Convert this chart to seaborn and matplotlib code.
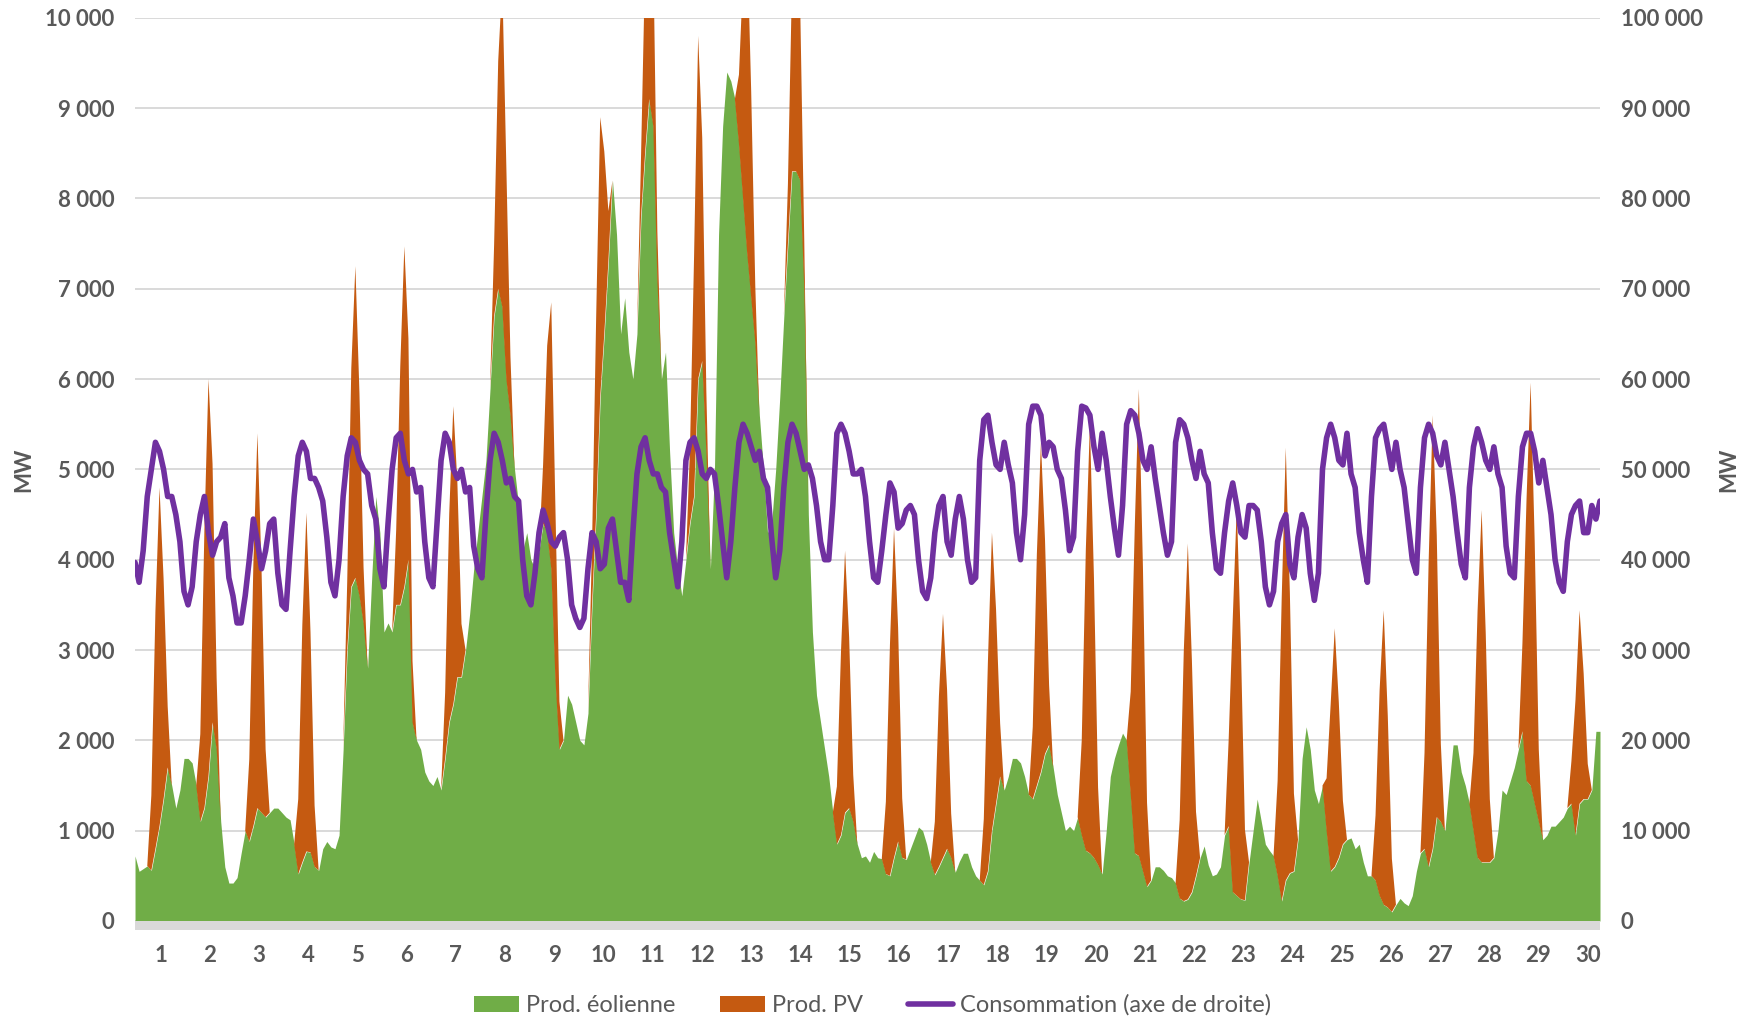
import matplotlib
matplotlib.use("Agg")
import matplotlib.pyplot as plt
import seaborn as sns
import pandas as pd
from matplotlib.patches import Patch, Rectangle
from matplotlib.lines import Line2D

GREEN = "#70AD47"
ORANGE = "#C55A11"
PURPLE = "#7030A0"
GREY_TXT = "#595959"
GRID = "#D9D9D9"

days = list(range(1, 31))
hours = [0, 2, 4, 6, 8, 10, 12, 14, 16, 18, 20, 22]

# Prod. éolienne (MW), one row of 2-hour values per day
wind_mw = [
    720, 550, 580, 610, 560, 800, 1050, 1350, 1700, 1500, 1250, 1450,
    1800, 1800, 1750, 1500, 1100, 1250, 1600, 2200, 1900, 1100, 600, 420,
    420, 480, 750, 1000, 880, 1050, 1250, 1200, 1150, 1200, 1250, 1250,
    1200, 1150, 1120, 850, 520, 650, 770, 760, 600, 560, 800, 880,
    820, 800, 950, 1900, 3000, 3700, 3800, 3600, 3300, 2800, 3800, 4700,
    4300, 3200, 3300, 3200, 3500, 3500, 3700, 4000, 2200, 2000, 1900, 1650,
    1550, 1500, 1600, 1450, 1800, 2200, 2400, 2700, 2700, 3000, 3400, 3900,
    4300, 4700, 5100, 5900, 6700, 7000, 6800, 6000, 5600, 5000, 4600, 4100,
    4300, 4000, 3900, 4100, 4400, 4300, 3900, 2700, 1900, 2000, 2500, 2400,
    2200, 2000, 1950, 2300, 3500, 4500, 5800, 6500, 7300, 8200, 7600, 6500,
    6900, 6300, 6000, 6500, 7800, 8500, 9100, 8800, 7100, 6000, 6300, 5200,
    4300, 3900, 3600, 4000, 4400, 4700, 6000, 6200, 5200, 3900, 5000, 7600,
    8800, 9400, 9300, 9100, 8600, 8000, 7400, 6900, 6400, 5600, 5000, 4300,
    4400, 5000, 5800, 6700, 7500, 8300, 8300, 8200, 7000, 4500, 3200, 2500,
    2200, 1900, 1600, 1200, 850, 950, 1200, 1250, 1100, 850, 700, 720,
    650, 770, 700, 690, 520, 500, 700, 880, 700, 680, 800, 920,
    1040, 1000, 850, 650, 510, 600, 700, 800, 700, 540, 660, 750,
    750, 600, 500, 450, 400, 550, 1000, 1300, 1600, 1450, 1600, 1800,
    1800, 1750, 1600, 1400, 1350, 1500, 1650, 1850, 1950, 1700, 1400, 1200,
    1000, 1050, 1000, 1150, 950, 780, 750, 700, 620, 520, 1000, 1600,
    1800, 1950, 2080, 2000, 1400, 750, 720, 550, 380, 450, 600, 600,
    560, 500, 480, 420, 250, 220, 240, 320, 500, 700, 830, 620,
    500, 520, 600, 950, 1050, 320, 280, 240, 230, 650, 1000, 1350,
    1100, 850, 780, 720, 500, 220, 450, 530, 550, 900, 1800, 2150,
    1900, 1450, 1300, 1500, 1000, 550, 600, 700, 850, 900, 920, 800,
    850, 650, 500, 500, 450, 280, 180, 150, 100, 180, 250, 200,
    170, 280, 550, 750, 800, 600, 800, 1150, 1100, 1000, 1500, 1950,
    1950, 1650, 1500, 1300, 1000, 700, 650, 650, 650, 700, 1000, 1450,
    1400, 1550, 1700, 1900, 2100, 1550, 1500, 1300, 1100, 900, 950, 1050,
    1050, 1100, 1150, 1250, 1300, 950, 1300, 1350, 1350, 1450, 2100, 2100,
]

# Prod. PV (MW), one row of 2-hour values per day
pv_mw = [
    0, 0, 0, 0, 830, 2630, 3750, 2440, 680, 0, 0, 0,
    0, 0, 0, 0, 970, 3080, 4400, 2860, 790, 0, 0, 0,
    0, 0, 0, 0, 910, 2900, 4150, 2700, 750, 0, 0, 0,
    0, 0, 0, 0, 830, 2630, 3750, 2440, 680, 0, 0, 0,
    0, 0, 0, 0, 760, 2420, 3450, 2240, 620, 0, 0, 0,
    0, 0, 0, 0, 830, 2640, 3770, 2450, 680, 0, 0, 0,
    0, 0, 0, 0, 730, 2310, 3300, 2150, 590, 0, 0, 0,
    0, 0, 0, 0, 790, 2520, 3600, 2340, 650, 0, 0, 0,
    0, 0, 0, 0, 650, 2070, 2950, 1920, 530, 0, 0, 0,
    0, 0, 0, 0, 680, 2170, 3100, 2020, 560, 0, 0, 0,
    0, 0, 0, 0, 660, 2100, 3000, 1950, 540, 0, 0, 0,
    0, 0, 0, 0, 840, 2660, 3800, 2470, 680, 0, 0, 0,
    0, 0, 0, 0, 770, 2450, 3500, 2280, 630, 0, 0, 0,
    0, 0, 0, 0, 660, 2100, 3000, 1950, 540, 0, 0, 0,
    0, 0, 0, 0, 640, 2030, 2900, 1890, 520, 0, 0, 0,
    0, 0, 0, 0, 800, 2560, 3650, 2370, 660, 0, 0, 0,
    0, 0, 0, 0, 590, 1890, 2700, 1760, 490, 0, 0, 0,
    0, 0, 0, 0, 730, 2310, 3300, 2150, 590, 0, 0, 0,
    0, 0, 0, 0, 800, 2560, 3650, 2370, 660, 0, 0, 0,
    0, 0, 0, 0, 1050, 3330, 4750, 3090, 860, 0, 0, 0,
    0, 0, 0, 0, 1140, 3620, 5170, 3360, 930, 0, 0, 0,
    0, 0, 0, 0, 870, 2760, 3940, 2560, 710, 0, 0, 0,
    0, 0, 0, 0, 950, 3020, 4320, 2810, 780, 0, 0, 0,
    0, 0, 0, 0, 1050, 3350, 4790, 3110, 860, 0, 0, 0,
    0, 0, 0, 0, 580, 1850, 2640, 1720, 480, 0, 0, 0,
    0, 0, 0, 0, 720, 2280, 3260, 2120, 590, 0, 0, 0,
    0, 0, 0, 0, 1060, 3360, 4800, 3120, 860, 0, 0, 0,
    0, 0, 0, 0, 860, 2730, 3900, 2540, 700, 0, 0, 0,
    0, 0, 0, 0, 980, 3120, 4460, 2900, 800, 0, 0, 0,
    0, 0, 0, 0, 470, 1500, 2140, 1390, 390, 0, 0, 0,
]

# Consommation (MW, right axis), one row of 2-hour values per day
conso_mw = [
    39700, 37500, 41000, 47000, 50000, 53000, 52000, 50000, 47000, 47000, 45000, 42000,
    36500, 35000, 37000, 42000, 45000, 47000, 43000, 40500, 42000, 42500, 44000, 38000,
    36000, 33000, 33000, 36000, 40000, 44500, 42000, 39000, 41000, 44000, 44500, 38500,
    35000, 34500, 41000, 47000, 51500, 53000, 52000, 49000, 49000, 48000, 46500, 42500,
    37500, 36000, 40000, 47000, 51500, 53500, 53000, 51000, 50000, 49500, 46000, 44500,
    39000, 37000, 44000, 50000, 53500, 54000, 51000, 49500, 50000, 47500, 48000, 42000,
    38000, 37000, 44000, 51000, 54000, 53000, 50000, 49000, 50000, 47500, 48000, 41500,
    39000, 38000, 45000, 51000, 54000, 53000, 51000, 48500, 49000, 47000, 46500, 40000,
    36000, 35000, 38500, 43000, 45500, 44000, 42000, 41500, 42500, 43000, 40000, 35000,
    33500, 32500, 33500, 39000, 43000, 42000, 39000, 39500, 43500, 44500, 41000, 37500,
    37500, 35500, 43000, 49500, 52500, 53500, 51000, 49500, 49500, 48000, 47500, 43000,
    40000, 37000, 42000, 51000, 53000, 53500, 52000, 49500, 49000, 50000, 49500, 46000,
    42000, 38000, 42000, 48000, 53000, 55000, 54000, 52500, 51000, 52000, 49000, 48000,
    42500, 38000, 41000, 48000, 53000, 55000, 54000, 52000, 50000, 50500, 49000, 46000,
    42000, 40000, 40000, 46000, 54000, 55000, 54000, 52000, 49500, 49500, 50000, 47000,
    42000, 38000, 37500, 41000, 45000, 48500, 47500, 43500, 44000, 45500, 46000, 45000,
    40000, 36500, 35700, 38000, 43000, 46000, 47000, 42000, 40500, 44500, 47000, 44500,
    40000, 37500, 38000, 51000, 55500, 56000, 53000, 50500, 50000, 53000, 50500, 48500,
    43000, 40000, 45000, 55000, 57000, 57000, 56000, 51500, 53000, 52500, 50000, 49000,
    45500, 41000, 42500, 52000, 57000, 56800, 56000, 52500, 50000, 54000, 51000, 47000,
    43500, 40500, 46000, 55000, 56500, 56000, 54000, 51000, 50000, 52500, 49000, 46000,
    43000, 40500, 42000, 53000, 55500, 55000, 53500, 51000, 49000, 52000, 49500, 48500,
    43000, 39000, 38500, 43000, 46500, 48500, 46000, 43000, 42500, 46000, 46000, 45500,
    42000, 37000, 35000, 36500, 42000, 44000, 45000, 39500, 38000, 42500, 45000, 43500,
    38500, 35500, 38500, 50000, 53500, 55000, 53500, 51000, 50500, 54000, 49500, 48000,
    43000, 40000, 37500, 47000, 53500, 54500, 55000, 52500, 50000, 53000, 50000, 48000,
    44000, 40000, 38500, 48000, 53500, 55000, 54000, 51500, 50500, 53000, 50000, 47000,
    43000, 39500, 38000, 48000, 52500, 54500, 53000, 51000, 50000, 52500, 49500, 48000,
    41500, 38500, 38000, 47000, 52500, 54000, 54000, 52000, 48500, 51000, 48000, 45000,
    40000, 37500, 36500, 42000, 45000, 46000, 46500, 43000, 43000, 46000, 44500, 46500,
]

left_ticks = list(range(0, 10001, 1000))
right_ticks = list(range(0, 100001, 10000))
legend_labels = ["Prod. éolienne", "Prod. PV", "Consommation (axe de droite)"]


def fmt(v):
    return f"{v:,}".replace(",", " ")


t = [d - 0.5 + h / 24 for d in days for h in hours]
df = pd.DataFrame({"t": t, "wind": wind_mw, "pv": pv_mw, "conso": conso_mw})

sns.set_theme(style="white")
plt.rcParams["font.family"] = ["Lato", "DejaVu Sans"]

fig = plt.figure(figsize=(17.49, 10.18), dpi=100)
ax = fig.add_axes([0.0772, 0.0953, 0.8376, 0.8872])
ax.stackplot(df["t"], df["wind"], df["pv"], colors=[GREEN, ORANGE], linewidth=0, zorder=2)
x0, x1 = df["t"].iloc[0], df["t"].iloc[-1]
ax.set_xlim(x0, x1)
ax.set_ylim(0, 10000)
ax.set_axisbelow(True)
ax.yaxis.grid(True, color=GRID, linewidth=1.4, zorder=0)
ax.xaxis.grid(False)
for s in ax.spines.values():
    s.set_visible(False)
ax.add_patch(Rectangle((0, -0.0102), 1, 0.0102, transform=ax.transAxes,
                       color=GRID, clip_on=False, zorder=3, linewidth=0))

# category labels: spread as in the reference axis
tick_pos = [1.023 + (d - 1) * 1.0049 for d in days]
ax.set_yticks(left_ticks, labels=[fmt(v) for v in left_ticks],
              fontweight="bold", fontsize=16, color=GREY_TXT)
ax.set_xticks(tick_pos, labels=[str(d) for d in days],
              fontweight="bold", fontsize=16, color=GREY_TXT)
ax.tick_params(axis="y", length=0, pad=15)
ax.tick_params(axis="x", length=0, pad=17)
ax.set_xlabel("")
ax.set_ylabel("MW", fontsize=16, color=GREY_TXT, fontweight="bold")
ax.yaxis.set_label_coords(-0.069, 0.5)

ax2 = ax.twinx()
sns.lineplot(data=df, x="t", y="conso", ax=ax2, color=PURPLE, linewidth=4.0, zorder=4)
ax2.set_ylim(0, 100000)
ax2.set_xlim(x0, x1)
for s in ax2.spines.values():
    s.set_visible(False)
ax2.set_yticks(right_ticks, labels=[fmt(v) for v in right_ticks],
               fontweight="bold", fontsize=16, color=GREY_TXT)
ax2.tick_params(axis="y", length=0, pad=15)
ax2.grid(False)
ax2.set_xlabel("")
ax2.set_ylabel("MW", fontsize=16, color=GREY_TXT, fontweight="bold", rotation=90)
ax2.yaxis.set_label_coords(1.081, 0.5)

handles = [Patch(facecolor=GREEN, edgecolor="none"),
           Patch(facecolor=ORANGE, edgecolor="none"),
           Line2D([0], [0], color=PURPLE, linewidth=4.0)]
fig.legend(handles, legend_labels, loc="center", bbox_to_anchor=(0.499, 0.0125),
           ncol=3, frameon=False, fontsize=17, labelcolor=GREY_TXT,
           handlelength=1.9, handleheight=0.66, columnspacing=1.9, handletextpad=0.3)

fig.savefig("out.png", dpi=100)
